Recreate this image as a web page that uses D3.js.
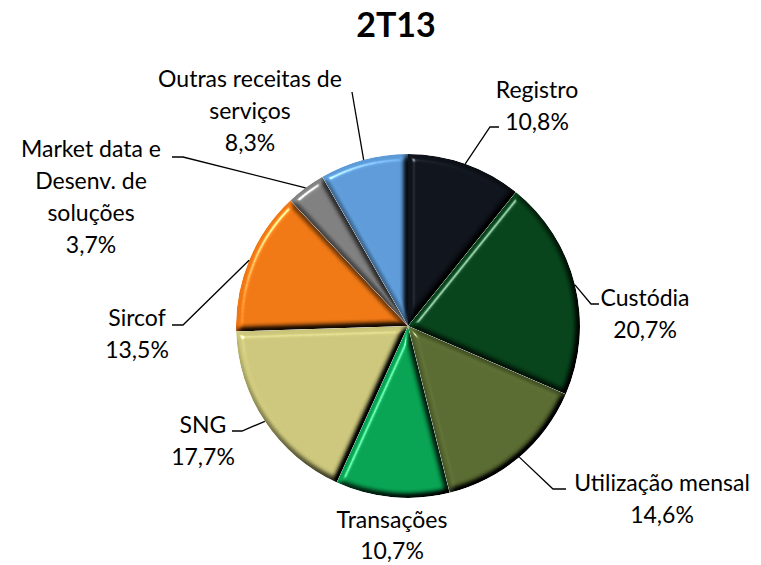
<!DOCTYPE html>
<html>
<head>
<meta charset="utf-8">
<script src="https://cdn.jsdelivr.net/npm/d3@7/dist/d3.min.js"></script>
<style>
  html, body { margin: 0; padding: 0; background: #ffffff; }
  svg { display: block; }
  text { font-family: Lato, "Open Sans", sans-serif; fill: #000; }
</style>
</head>
<body>
<svg id="chart" width="761" height="565"></svg>
<script>
// ---- data ----
const title = "2T13";
const categories = ["Registro", "Custódia", "Utilização mensal", "Transações", "SNG", "Sircof",
  "Market data e Desenv. de soluções", "Outras receitas de serviços"];
const values = [10.8, 20.7, 14.6, 10.7, 17.7, 13.5, 3.7, 8.3];
const labelLines = [["Registro"], ["Custódia"], ["Utilização mensal"], ["Transações"], ["SNG"], ["Sircof"],
  ["Market data e", "Desenv. de", "soluções"], ["Outras receitas de", "serviços"]];

// ---- styles / layout ----
const colors = ["#0f131b", "#06431a", "#596b31", "#07a352", "#ccc77b", "#f07814", "#808080", "#5d9bd8"];
const cx = 408, cy = 326, R = 172;
const fontSize = 23, lineH = 32;
// label anchor: [center x, first baseline y]; leader: list of points after the arc start
const labelLayout = [
  {x: 537, y: 98,  leader: [[490, 127], [499, 127]]},
  {x: 645, y: 306, leader: [[591, 304], [599, 304]]},
  {x: 662, y: 491, leader: [[553, 489], [566, 489]]},
  {x: 392, y: 528, lh: 31, leader: null},
  {x: 203, y: 433, leader: [[242, 431], [232, 431]]},
  {x: 137, y: 326, leader: [[183, 325], [172, 325]]},
  {x: 91,  y: 157, leader: [[183, 157], [172, 157]]},
  {x: 250, y: 87,  leader: [[352, 92]]}
];

const svg = d3.select("#chart");
const defs = svg.append("defs");
const f = defs.append("filter").attr("id", "bevel")
  .attr("color-interpolation-filters", "sRGB")
  .attr("x", "-10%").attr("y", "-10%").attr("width", "120%").attr("height", "120%");
f.append("feGaussianBlur").attr("in", "SourceAlpha").attr("stdDeviation", 3.4).attr("result", "blur");
const diff = f.append("feDiffuseLighting").attr("in", "blur").attr("surfaceScale", 7)
  .attr("diffuseConstant", 1.23).attr("lighting-color", "#ffffff").attr("result", "diff");
diff.append("feDistantLight").attr("azimuth", 225).attr("elevation", 54);
f.append("feComposite").attr("in", "SourceGraphic").attr("in2", "diff")
  .attr("operator", "arithmetic").attr("k1", 1).attr("k2", 0).attr("k3", 0).attr("k4", 0).attr("result", "lit");
const spec = f.append("feSpecularLighting").attr("in", "blur").attr("surfaceScale", 7)
  .attr("specularConstant", 0.6).attr("specularExponent", 35).attr("lighting-color", "#ffffff").attr("result", "spec");
spec.append("feDistantLight").attr("azimuth", 225).attr("elevation", 35);
f.append("feComposite").attr("in", "spec").attr("in2", "SourceAlpha").attr("operator", "in").attr("result", "specIn");
f.append("feComposite").attr("in", "lit").attr("in2", "specIn")
  .attr("operator", "arithmetic").attr("k1", 0).attr("k2", 1).attr("k3", 1).attr("k4", 0).attr("result", "sum");
f.append("feComposite").attr("in", "sum").attr("in2", "SourceAlpha").attr("operator", "in");

// title
svg.append("text").attr("x", 396).attr("y", 37).attr("text-anchor", "middle")
  .style("font-size", "34px").style("font-weight", "bold").text(title);

const pie = d3.pie().sort(null).value(d => d)(values);
const arc = d3.arc().innerRadius(0).outerRadius(R);
const g = svg.append("g").attr("transform", `translate(${cx},${cy})`);
g.selectAll("path.slice").data(pie).enter().append("path")
  .attr("class", "slice")
  .attr("d", arc)
  .attr("fill", (d, i) => colors[i])
  .attr("filter", "url(#bevel)");

// leaders and labels
const fmt = v => d3.format(".1f")(v).replace(".", ",") + "%";
pie.forEach((d, i) => {
  const L = labelLayout[i];
  if (L.leader) {
    const a = (d.startAngle + d.endAngle) / 2;
    const start = [cx + R * Math.sin(a), cy - R * Math.cos(a)];
    const pts = [start].concat(L.leader);
    svg.append("path").attr("d", d3.line()(pts)).attr("fill", "none")
      .attr("stroke", "#000").attr("stroke-width", 1.3);
  }
  const t = svg.append("text").attr("text-anchor", "middle").style("font-size", fontSize + "px");
  const lines = labelLines[i].concat([fmt(values[i])]);
  const lh = L.lh || lineH;
  lines.forEach((s, k) => {
    t.append("tspan").attr("x", L.x).attr("y", L.y + k * lh).text(s);
  });
});
</script>
</body>
</html>
